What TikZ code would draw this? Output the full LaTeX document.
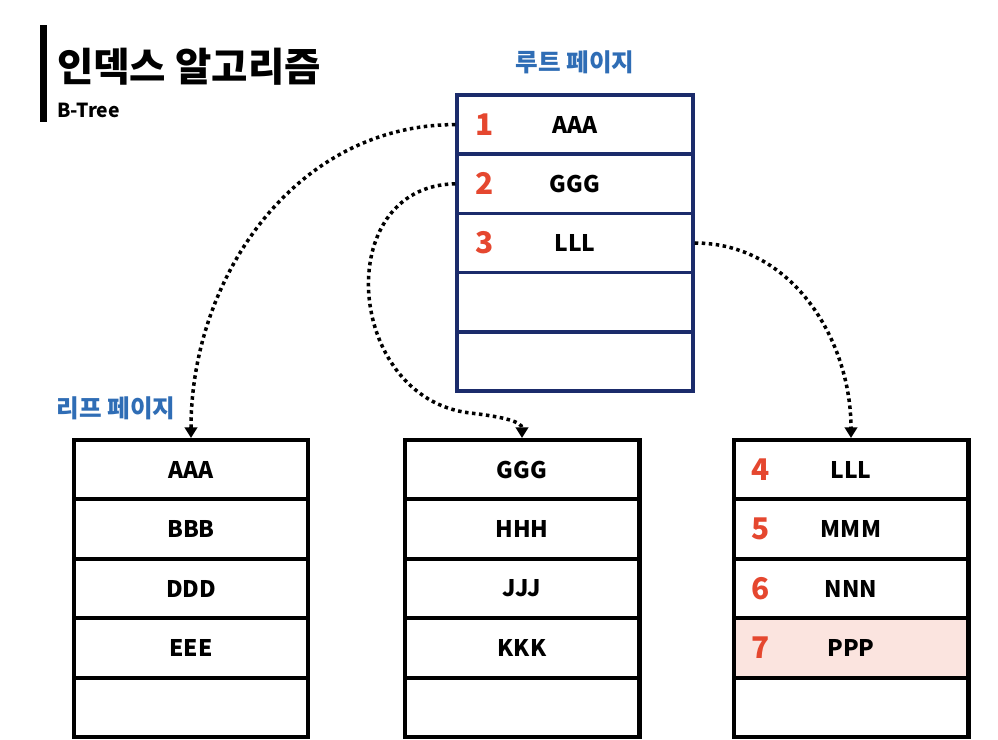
\documentclass[tikz,border=0pt]{standalone}
\usepackage{fontspec}
\setmainfont{Noto Sans CJK KR}
\usetikzlibrary{arrows.meta, positioning, calc}
\definecolor{rootnavy}{HTML}{1B2B6B}
\definecolor{pageblue}{HTML}{2F6DB5}
\definecolor{keyred}{HTML}{E5472F}
\definecolor{hitpink}{HTML}{FBE4DF}
\tikzset{
  rootcell/.style={draw=rootnavy, line width=2pt, minimum width=4.72cm,
    minimum height=1.184cm, inner sep=0pt, font=\fontsize{13}{15}\selectfont\bfseries},
  leafcell/.style={draw=black, line width=2.3pt, minimum width=4.7cm,
    minimum height=1.188cm, inner sep=0pt, font=\fontsize{13}{15}\selectfont\bfseries},
  keynum/.style={text=keyred, font=\fontsize{17}{19}\selectfont\bfseries, inner sep=0pt},
  pagelabel/.style={text=pageblue, font=\fontsize{14}{16}\selectfont\bfseries},
  link/.style={line width=2pt, dash pattern=on 2pt off 2pt,
    -{Triangle[width=7pt,length=6pt]}}
}
\begin{document}
\begin{tikzpicture}[x=0.02cm, y=-0.02cm]
  \useasboundingbox (0,0) rectangle (998,740);
  \fill[black] (40,25) rectangle (46.5,122);
  \node[anchor=west, font=\fontsize{22.5}{24}\selectfont\bfseries] (title) at (51,67) {인덱스 알고리즘};
  \node[anchor=west, font=\fontsize{11}{13}\selectfont\bfseries] (subtitle) at (51,110) {B-Tree};
  \node[pagelabel] (rootlabel) at (575,62) {루트 페이지};
  \node[pagelabel] (leaflabel) at (116,408) {리프 페이지};
  \foreach \key [count=\i] in {AAA,GGG,LLL,{},{}}{%
    \node[rootcell] (rt\i) at (575,{95+59.2*(\i-0.5)}) {\key};}
  \foreach \i in {1,2,3}{%
    \node[keynum] (rn\i) at ($(rt\i.west)+(29,0)$) {\i};}
  \foreach \key [count=\i] in {AAA,BBB,DDD,EEE,{}}{%
    \node[leafcell] (la\i) at (191,{440+59.4*(\i-0.5)}) {\key};}
  \foreach \key [count=\i] in {GGG,HHH,JJJ,KKK,{}}{%
    \node[leafcell] (lb\i) at (522,{440+59.4*(\i-0.5)}) {\key};}
  \node[leafcell, fill=hitpink] (lc4) at (851,{440+59.4*3.5}) {};
  \foreach \key [count=\i] in {LLL,MMM,NNN,PPP,{}}{%
    \node[leafcell] (lc\i) at (851,{440+59.4*(\i-0.5)}) {\key};}
  \foreach \n [count=\i] in {4,5,6,7}{%
    \node[keynum] (cn\n) at ($(lc\i.west)+(29,0)$) {\n};}
  \draw[link] (rt1.west) to[out=180, in=90] (la1.north);
  \draw[link] (rt2.west) .. controls (330,186) and (345,398) .. (470,413)
    .. controls (505,417) and (522,422) .. (lb1.north);
  \draw[link] (rt3.east) to[out=0, in=90] (lc1.north);
\end{tikzpicture}
\end{document}
